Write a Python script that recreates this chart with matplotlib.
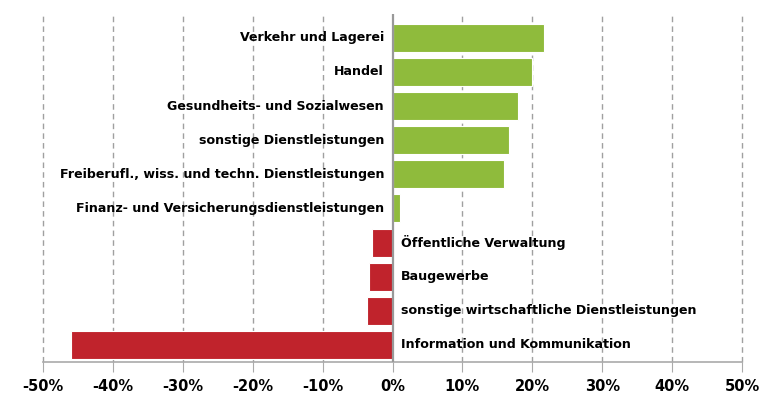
import matplotlib.pyplot as plt

# Branchen und Veraenderung in Prozent
BRANCHEN = [
    "Verkehr und Lagerei",
    "Handel",
    "Gesundheits- und Sozialwesen",
    "sonstige Dienstleistungen",
    "Freiberufl., wiss. und techn. Dienstleistungen",
    "Finanz- und Versicherungsdienstleistungen",
    "Öffentliche Verwaltung",
    "Baugewerbe",
    "sonstige wirtschaftliche Dienstleistungen",
    "Information und Kommunikation",
]
WERTE = [21.7, 19.9, 17.9, 16.7, 16.0, 1.1, -3.0, -3.3, -3.7, -46.0]
XTICKS = [-50, -40, -30, -20, -10, 0, 10, 20, 30, 40, 50]
XLABELS = ["-50%", "-40%", "-30%", "-20%", "-10%", "0%", "10%", "20%", "30%", "40%", "50%"]

GRUEN = "#8fbb3c"
ROT = "#c0232c"

plt.rcParams["font.family"] = ["DejaVu Sans"]

fig = plt.figure(figsize=(7.62, 4.0), dpi=100)
ax = fig.add_axes([43 / 762, 1 - 362 / 400, (742 - 43) / 762, (362 - 14) / 400])

pos = list(range(len(BRANCHEN)))
farben = [GRUEN if w >= 0 else ROT for w in WERTE]
ax.barh(pos, WERTE, height=0.82, color=farben, edgecolor="white", linewidth=0.8, zorder=3)

for p, name, w in zip(pos, BRANCHEN, WERTE):
    if w >= 0:
        ax.text(-1.2, p, name, ha="right", va="center", fontsize=9.1, fontweight="bold", zorder=4)
    else:
        ax.text(1.2, p, name, ha="left", va="center", fontsize=9.1, fontweight="bold", zorder=4)

ax.set_xlim(-50, 50)
ax.set_ylim(9.5, -0.7)
ax.set_yticks([])
ax.set_xticks(XTICKS)
ax.set_xticklabels(XLABELS, fontsize=10.5, fontweight="bold")
ax.tick_params(axis="x", length=7, color="#aaaaaa", direction="out", pad=5)

for x in XTICKS:
    if x != 0:
        ax.axvline(x, color="#a0a0a0", linestyle=(0, (4, 3)), linewidth=1, zorder=1, clip_on=False)
ax.axvline(0, color="#999999", linewidth=1.6, zorder=5)

for s in ["top", "left", "right"]:
    ax.spines[s].set_visible(False)
ax.spines["bottom"].set_color("#aaaaaa")
ax.spines["bottom"].set_linewidth(1.2)

fig.savefig("out.png", dpi=100)
